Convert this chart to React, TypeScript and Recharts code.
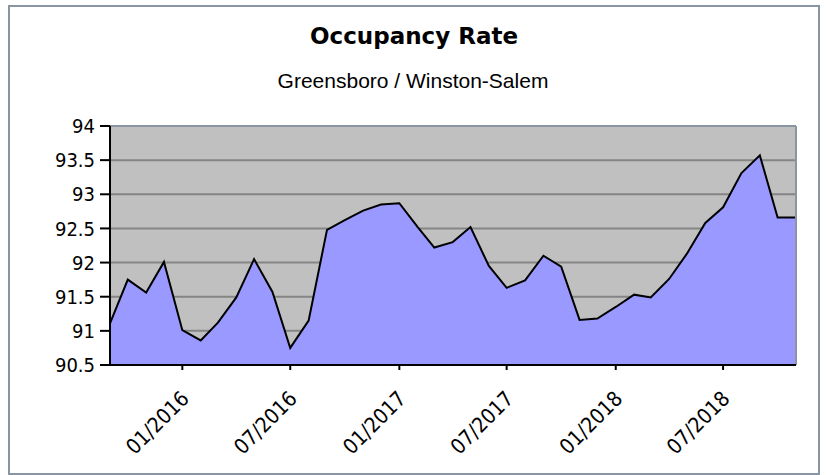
import React from "react";
import {
  AreaChart,
  Area,
  XAxis,
  YAxis,
  CartesianGrid,
  ReferenceLine,
} from "recharts";

const months: string[] = [
  "2015-09", "2015-10", "2015-11", "2015-12",
  "2016-01", "2016-02", "2016-03", "2016-04", "2016-05", "2016-06",
  "2016-07", "2016-08", "2016-09", "2016-10", "2016-11", "2016-12",
  "2017-01", "2017-02", "2017-03", "2017-04", "2017-05", "2017-06",
  "2017-07", "2017-08", "2017-09", "2017-10", "2017-11", "2017-12",
  "2018-01", "2018-02", "2018-03", "2018-04", "2018-05", "2018-06",
  "2018-07", "2018-08", "2018-09", "2018-10", "2018-11",
];

const occupancy: number[] = [
  91.11, 91.75, 91.56, 92.01,
  91.01, 90.86, 91.12, 91.49, 92.05, 91.57,
  90.75, 91.15, 92.48, 92.62, 92.76, 92.85,
  92.87, 92.52, 92.22, 92.3, 92.52, 91.95,
  91.63, 91.74, 92.1, 91.94, 91.16, 91.18,
  91.35, 91.53, 91.49, 91.76, 92.13, 92.58,
  92.81, 93.31, 93.57, 92.66, 92.66,
];

const tickMonths: string[] = ["2016-01", "2016-07", "2017-01", "2017-07", "2018-01", "2018-07"];
const tickLabels: string[] = ["01/2016", "07/2016", "01/2017", "07/2017", "01/2018", "07/2018"];
const yTicks: number[] = [90.5, 91, 91.5, 92, 92.5, 93, 93.5, 94];

const title = "Occupancy Rate";
const subtitle = "Greensboro / Winston-Salem";

const toTs = (m: string) => Date.UTC(+m.slice(0, 4), +m.slice(5, 7) - 1, 1);

const data = months.map((m, i) => ({ t: toTs(m), value: occupancy[i] }));
const tickTs = tickMonths.map(toTs);
const xMin = toTs(months[0]);
const xMax = toTs(months[months.length - 1]);

const TICK_FONT = "'DejaVu Sans Condensed', 'DejaVu Sans', sans-serif";

const XTick = (props: any) => {
  const { x, y, payload } = props;
  const idx = tickTs.indexOf(payload.value);
  const label = idx >= 0 ? tickLabels[idx] : "";
  return (
    <g transform={`translate(${x + 8},${y + 28})`}>
      <text
        textAnchor="end"
        transform="rotate(-45)"
        fontSize={21}
        fontFamily={TICK_FONT}
        fill="#000"
      >
        {label}
      </text>
    </g>
  );
};

export default function App() {
  return (
    <div style={{ position: "absolute", left: 0, top: 0, width: 826, height: 475, background: "#fff" }}>
      <div
        style={{
          position: "absolute",
          left: 8,
          top: 5,
          width: 812,
          height: 470,
          border: "2px solid #8896a4",
          boxSizing: "border-box",
        }}
      />
      <div style={{ position: "absolute", left: 0, top: 0 }}>
        <AreaChart
          width={826}
          height={475}
          data={data}
          margin={{ top: 126, right: 30, bottom: 0, left: 0 }}
        >
          <CartesianGrid
            vertical={false}
            fill="#c0c0c0"
            stroke="#858585"
            strokeWidth={2}
          />
          <XAxis
            dataKey="t"
            type="number"
            scale="linear"
            domain={[xMin, xMax]}
            ticks={tickTs}
            interval={0}
            height={110}
            tickSize={5}
            tickMargin={2}
            tick={<XTick />}
            axisLine={{ stroke: "#000", strokeWidth: 2 }}
            tickLine={{ stroke: "#000", strokeWidth: 2 }}
          />
          <YAxis
            type="number"
            domain={[90.5, 94]}
            ticks={yTicks}
            interval={0}
            width={110}
            tickSize={10}
            tickMargin={5}
            tick={{ fontSize: 20, fontFamily: TICK_FONT, fill: "#000" }}
            axisLine={{ stroke: "#000", strokeWidth: 2 }}
            tickLine={{ stroke: "#000", strokeWidth: 2 }}
          />
          <Area
            type="linear"
            dataKey="value"
            fill="#9999ff"
            fillOpacity={1}
            stroke="#000"
            strokeWidth={2}
            baseValue={90.5}
            dot={false}
            activeDot={false}
            isAnimationActive={false}
          />
          <ReferenceLine y={94} stroke="#8896a4" strokeWidth={2} />
          <ReferenceLine x={xMax} stroke="#8896a4" strokeWidth={2} />
        </AreaChart>
      </div>
      <svg
        width={826}
        height={475}
        style={{ position: "absolute", left: 0, top: 0, pointerEvents: "none" }}
      >
        <text
          x={414}
          y={44}
          textAnchor="middle"
          fontSize={23}
          fontWeight="bold"
          fontFamily="'DejaVu Sans', sans-serif"
          fill="#000"
        >
          {title}
        </text>
        <text
          x={413}
          y={88}
          textAnchor="middle"
          fontSize={21}
          fontFamily="'Liberation Sans', Arial, sans-serif"
          fill="#000"
        >
          {subtitle}
        </text>
      </svg>
    </div>
  );
}
